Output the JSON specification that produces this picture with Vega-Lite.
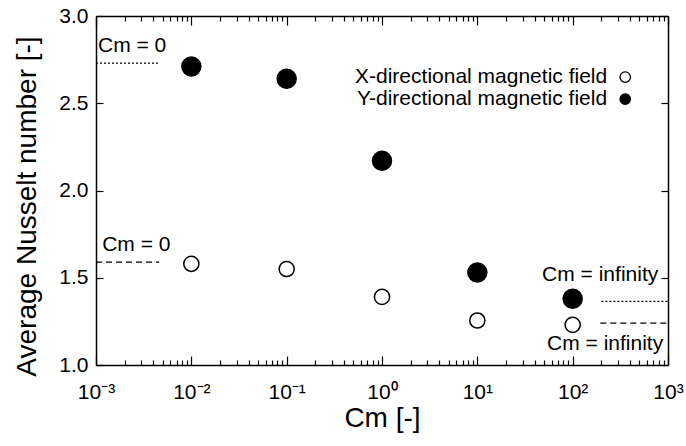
{
  "$schema": "https://vega.github.io/schema/vega-lite/v6.json",
  "width": 572,
  "height": 349,
  "autosize": {"type": "none"},
  "padding": {"left": 96, "top": 16, "right": 18, "bottom": 81},
  "background": "white",
  "config": {
    "view": {"stroke": null},
    "axis": {
      "labelFont": "Liberation Sans",
      "labelFontSize": 21,
      "labelColor": "black",
      "titleFont": "Liberation Sans",
      "titleFontSize": 28,
      "titleFontWeight": "normal",
      "titleColor": "black"
    }
  },
  "datasets": {
    "points": [
      {"cm": 0.01, "nu": 1.58, "series": "X"},
      {"cm": 0.1, "nu": 1.55, "series": "X"},
      {"cm": 1, "nu": 1.39, "series": "X"},
      {"cm": 10, "nu": 1.255, "series": "X"},
      {"cm": 100, "nu": 1.23, "series": "X"},
      {"cm": 0.01, "nu": 2.71, "series": "Y"},
      {"cm": 0.1, "nu": 2.64, "series": "Y"},
      {"cm": 1, "nu": 2.17, "series": "Y"},
      {"cm": 10, "nu": 1.53, "series": "Y"},
      {"cm": 100, "nu": 1.38, "series": "Y"}
    ],
    "lines": [
      {"x": 0.001, "x2": 0.0045, "y": 2.73, "style": "dotted"},
      {"x": 0.001, "x2": 0.0046, "y": 1.59, "style": "dashed"},
      {"x": 200, "x2": 1000, "y": 1.365, "style": "dotted"},
      {"x": 195, "x2": 1000, "y": 1.24, "style": "dashed"}
    ],
    "textLeft": [
      {"cm": 0.00105, "nu": 2.83, "label": "Cm = 0"},
      {"cm": 0.00116, "nu": 1.69, "label": "Cm = 0"}
    ],
    "textRight": [
      {"cm": 790, "nu": 1.516, "label": "Cm = infinity"},
      {"cm": 890, "nu": 1.12, "label": "Cm = infinity"},
      {"cm": 230, "nu": 2.65, "label": "X-directional magnetic field"},
      {"cm": 230, "nu": 2.524, "label": "Y-directional magnetic field"}
    ],
    "legendMarks": [
      {"cm": 356, "nu": 2.65, "series": "X"},
      {"cm": 356, "nu": 2.524, "series": "Y"}
    ]
  },
  "layer": [
    {
      "data": {"name": "lines"},
      "mark": {"type": "rule", "strokeWidth": 1.3, "color": "black"},
      "encoding": {
        "x": {
          "field": "x", "type": "quantitative",
          "scale": {"type": "log", "domain": [0.001, 1000], "nice": false},
          "axis": {
            "orient": "top", "title": null, "labels": false, "grid": true, "gridOpacity": 0,
            "domainColor": "black", "domainWidth": 1.5, "tickColor": "black", "tickWidth": 1.2,
            "values": [0.001,0.002,0.003,0.004,0.005,0.006,0.007,0.008,0.009,0.01,0.02,0.03,0.04,0.05,0.06,0.07,0.08,0.09,0.1,0.2,0.3,0.4,0.5,0.6,0.7,0.8,0.9,1,2,3,4,5,6,7,8,9,10,20,30,40,50,60,70,80,90,100,200,300,400,500,600,700,800,900,1000],
            "tickSize": {"condition": {"test": "abs(log(datum.value)/LN10 - round(log(datum.value)/LN10)) < 0.001", "value": -9}, "value": -5}
          }
        },
        "x2": {"field": "x2"},
        "y": {
          "field": "y", "type": "quantitative",
          "scale": {"domain": [1, 3], "nice": false, "zero": false},
          "axis": {"orient": "right", "title": null, "labels": false, "grid": true, "gridOpacity": 0,
            "domainColor": "black", "domainWidth": 1.5, "tickColor": "black", "tickWidth": 1.2,
            "values": [1, 1.5, 2, 2.5, 3], "tickSize": -7}
        },
        "strokeDash": {
          "field": "style", "type": "nominal",
          "scale": {"domain": ["dotted", "dashed"], "range": [[2, 2], [6, 4]]},
          "legend": null
        }
      }
    },
    {
      "encoding": {
        "x": {
          "field": "cm", "type": "quantitative",
          "scale": {"type": "log", "domain": [0.001, 1000], "nice": false},
          "axis": {
            "orient": "bottom", "title": "Cm [-]", "grid": true, "gridOpacity": 0,
            "domainColor": "black", "domainWidth": 1.5, "tickColor": "black", "tickWidth": 1.2,
            "values": [0.001,0.002,0.003,0.004,0.005,0.006,0.007,0.008,0.009,0.01,0.02,0.03,0.04,0.05,0.06,0.07,0.08,0.09,0.1,0.2,0.3,0.4,0.5,0.6,0.7,0.8,0.9,1,2,3,4,5,6,7,8,9,10,20,30,40,50,60,70,80,90,100,200,300,400,500,600,700,800,900,1000],
            "tickSize": {"condition": {"test": "abs(log(datum.value)/LN10 - round(log(datum.value)/LN10)) < 0.001", "value": -9}, "value": -5},
            "labelExpr": "datum.value == 0.001 ? '10⁻³' : datum.value == 0.01 ? '10⁻²' : datum.value == 0.1 ? '10⁻¹' : datum.value == 1 ? '10⁰' : datum.value == 10 ? '10¹' : datum.value == 100 ? '10²' : datum.value == 1000 ? '10³' : ''",
            "labelPadding": 25.5,
            "labelFlush": false,
            "labelOverlap": false,
            "labelBound": false,
            "titleBaseline": "alphabetic",
            "titleY": 61
          }
        },
        "y": {
          "field": "nu", "type": "quantitative",
          "scale": {"domain": [1, 3], "nice": false, "zero": false},
          "axis": {
            "orient": "left", "title": "Average Nusselt number [-]", "grid": true, "gridOpacity": 0,
            "domainColor": "black", "domainWidth": 1.5, "tickColor": "black", "tickWidth": 1.2,
            "values": [1, 1.5, 2, 2.5, 3], "format": ".1f",
            "tickSize": -7, "labelPadding": 15,
            "titleBaseline": "alphabetic", "titleX": -61, "titleY": 190
          }
        }
      },
      "layer": [
        {
          "data": {"name": "points"},
          "mark": {"type": "point", "shape": "circle", "filled": true, "stroke": "black", "strokeWidth": 1.5, "opacity": 1},
          "encoding": {
            "fill": {
              "field": "series", "type": "nominal",
              "scale": {"domain": ["X", "Y"], "range": ["white", "black"]},
              "legend": null
            },
            "size": {
              "field": "series", "type": "nominal",
              "scale": {"domain": ["X", "Y"], "range": [230, 360]},
              "legend": null
            }
          }
        },
        {
          "data": {"name": "legendMarks"},
          "mark": {"type": "point", "shape": "circle", "filled": true, "stroke": "black", "strokeWidth": 1.3, "size": 110, "opacity": 1},
          "encoding": {
            "fill": {
              "field": "series", "type": "nominal",
              "scale": {"domain": ["X", "Y"], "range": ["white", "black"]},
              "legend": null
            }
          }
        },
        {
          "data": {"name": "textLeft"},
          "mark": {"type": "text", "align": "left", "baseline": "middle", "fontSize": 21, "font": "Liberation Sans", "color": "black"},
          "encoding": {
            "text": {"field": "label"}
          }
        },
        {
          "data": {"name": "textRight"},
          "mark": {"type": "text", "align": "right", "baseline": "middle", "fontSize": 21, "font": "Liberation Sans", "color": "black"},
          "encoding": {
            "text": {"field": "label"}
          }
        }
      ]
    }
  ],
  "resolve": {"axis": {"x": "independent", "y": "independent"}}
}
